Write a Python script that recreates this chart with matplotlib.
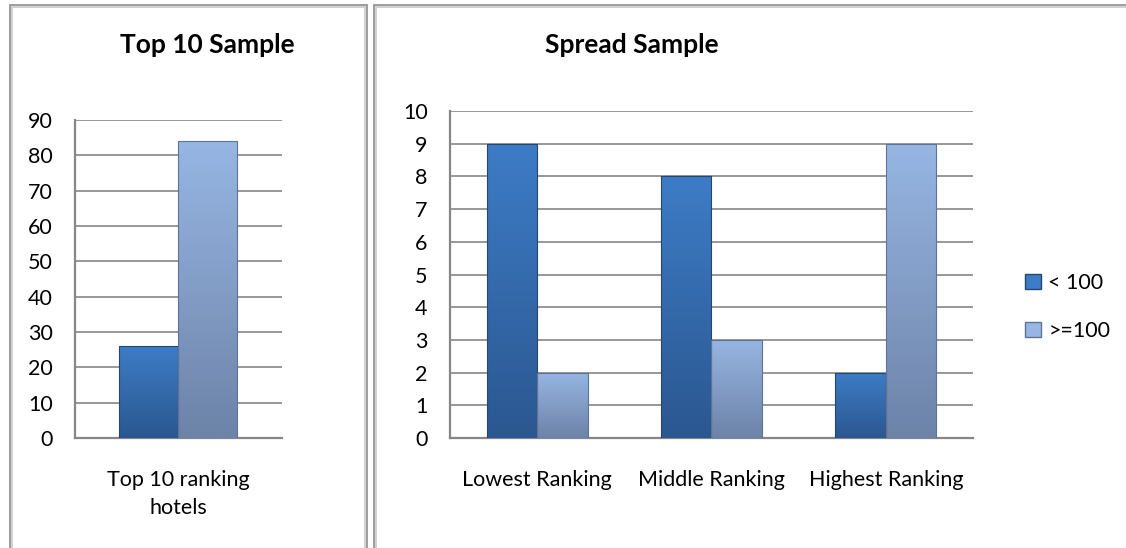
import matplotlib
matplotlib.use('Agg')
import matplotlib.pyplot as plt
import numpy as np
from matplotlib.patches import Rectangle, Patch
from matplotlib.colors import LinearSegmentedColormap

plt.rcParams['font.family'] = ['Lato', 'DejaVu Sans']

#chart data
top_categories = ['Top 10 ranking\nhotels']
top_under_100 = [26]
top_over_100 = [84]

spread_categories = ['Lowest Ranking', 'Middle Ranking', 'Highest Ranking']
spread_under_100 = [9, 8, 2]
spread_over_100 = [2, 3, 9]

series_names = ['< 100', '>=100']

#colours (top / bottom of the gradient)
dark_top, dark_bottom = '#3d7cc6', '#2b5790'
light_top, light_bottom = '#97b6e3', '#6d83a8'
grid_color = '#868686'
font_size = 15.5


def shade_bars(ax, bars, c_top, c_bottom, edge):
    #fill each bar with a vertical gradient, clipped to the bar shape
    cmap = LinearSegmentedColormap.from_list('g', [c_bottom, c_top])
    grad = np.linspace(0, 1, 256).reshape(-1, 1)
    for b in bars:
        x0, y0 = b.get_x(), b.get_y()
        w, h = b.get_width(), b.get_height()
        im = ax.imshow(grad, cmap=cmap, origin='lower', aspect='auto',
                       extent=[x0, x0 + w, y0, y0 + h], zorder=3)
        im.set_clip_path(b)
        b.set_facecolor('none')
        b.set_edgecolor(edge)
        b.set_linewidth(0.8)
        b.set_zorder(4)


def style_axes(ax, ymax, step):
    ax.set_ylim(0, ymax)
    ax.set_yticks(np.arange(0, ymax + step, step))
    ax.yaxis.grid(True, color=grid_color, linewidth=1.2)
    ax.set_axisbelow(True)
    for s in ['top', 'right']:
        ax.spines[s].set_visible(False)
    for s in ['left', 'bottom']:
        ax.spines[s].set_color(grid_color)
        ax.spines[s].set_linewidth(1.6)
    ax.tick_params(axis='both', length=0, labelsize=font_size)
    ax.tick_params(axis='y', pad=16)
    ax.tick_params(axis='x', pad=23)


fig = plt.figure(figsize=(11.26, 5.48), dpi=100)

#panel borders (double grey line)
for x0, x1 in [(10, 367), (374, 1140)]:
    for off, col in [(0, '#8c8c8c'), (2, '#c8c8c8')]:
        r = Rectangle(((x0 + off) / 1126, -0.05), (x1 - x0 - 2 * off) / 1126,
                      1.05 - (5 + off) / 548, transform=fig.transFigure,
                      fill=False, edgecolor=col, linewidth=1.2)
        fig.patches.append(r)

#left chart
ax1 = fig.add_axes([0.0666, 0.2007, 0.1838, 0.5803])
w1 = 0.285
x = np.arange(len(top_categories))
b1 = ax1.bar(x - w1 / 2, top_under_100, w1)
b2 = ax1.bar(x + w1 / 2, top_over_100, w1)
shade_bars(ax1, b1, dark_top, dark_bottom, '#24466f')
shade_bars(ax1, b2, light_top, light_bottom, '#5f7396')
ax1.set_xlim(-0.5, 0.5)
ax1.set_xticks(x)
ax1.set_xticklabels(top_categories, linespacing=1.5)
style_axes(ax1, 90, 10)
fig.text(207 / 1126, 1 - 45 / 548, 'Top 10 Sample', ha='center', va='center',
         fontsize=19, fontweight='bold')

#right chart
ax2 = fig.add_axes([0.3996, 0.2007, 0.4645, 0.5967])
w2 = 0.29
x = np.arange(len(spread_categories))
b1 = ax2.bar(x - w2 / 2, spread_under_100, w2)
b2 = ax2.bar(x + w2 / 2, spread_over_100, w2)
shade_bars(ax2, b1, dark_top, dark_bottom, '#24466f')
shade_bars(ax2, b2, light_top, light_bottom, '#5f7396')
ax2.set_xlim(-0.5, len(spread_categories) - 0.5)
ax2.set_xticks(x)
ax2.set_xticklabels(spread_categories)
style_axes(ax2, 10, 1)
fig.text(632 / 1126, 1 - 45 / 548, 'Spread Sample', ha='center', va='center',
         fontsize=19, fontweight='bold')

handles = [Patch(facecolor=dark_top, edgecolor='#24466f'),
           Patch(facecolor=light_top, edgecolor='#5f7396')]
fig.legend(handles, series_names, loc='center left',
           bbox_to_anchor=(1014 / 1126, 1 - 307 / 548), frameon=False,
           fontsize=font_size, handlelength=0.75, handleheight=0.75,
           handletextpad=0.35, labelspacing=1.3, borderpad=0)

fig.savefig('out.png', dpi=100)
